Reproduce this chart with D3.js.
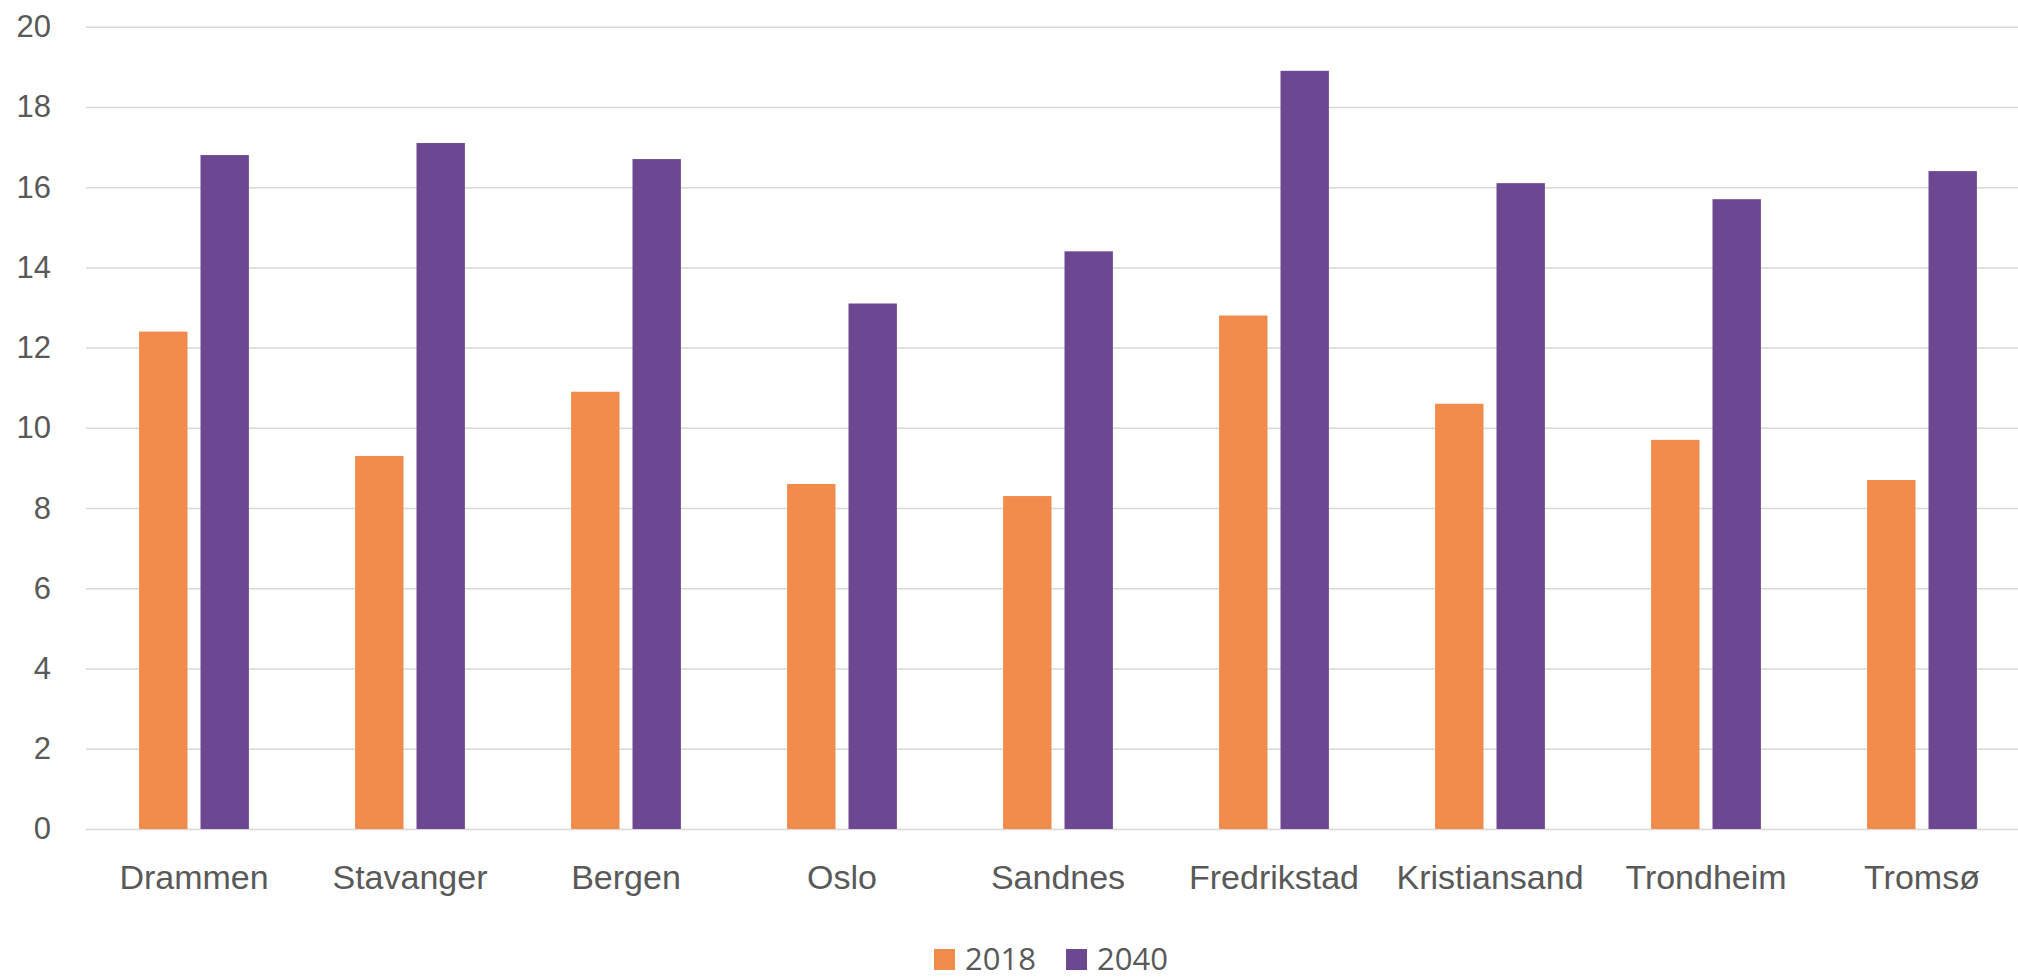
<!DOCTYPE html>
<html lang="no">
  <head>
    <meta charset="UTF-8" />
    <title>2018 / 2040</title>
    <script src="https://d3js.org/d3.v7.min.js"></script>
    <style>
      body {
        margin: 0;
        background: #fff;
        font-family: "Open Sans", "Noto Sans", sans-serif;
      }
      .axis text {
        fill: #595959;
        font-size: 31px;
      }
      .axis.cats text {
        font-size: 34px;
      }
      .grid line {
        stroke: #d9d9d9;
        stroke-width: 1.5;
      }
    </style>
  </head>
  <body>
    <div id="chart"></div>
    <script>
      const cities = [
        "Drammen", "Stavanger", "Bergen", "Oslo", "Sandnes",
        "Fredrikstad", "Kristiansand", "Trondheim", "Tromsø",
      ];
      const values2018 = [12.4, 9.3, 10.9, 8.6, 8.3, 12.8, 10.6, 9.7, 8.7];
      const values2040 = [16.8, 17.1, 16.7, 13.1, 14.4, 18.9, 16.1, 15.7, 16.4];
      const seriesNames = ["2018", "2040"];
      const seriesColors = ["#f18b4b", "#6c4893"];
      const yTicks = [0, 2, 4, 6, 8, 10, 12, 14, 16, 18, 20];

      const width = 2018;
      const height = 978;
      const plotLeft = 86;
      const slot = 216; // width of one city slot
      const plotTop = 26.7;
      const plotBottom = 829;

      const rows = cities.map((c, i) => ({
        city: c,
        vals: [values2018[i], values2040[i]],
      }));

      const svg = d3
        .select("#chart")
        .append("svg")
        .attr("width", width)
        .attr("height", height);

      const x0 = d3
        .scaleBand()
        .domain(cities)
        .range([plotLeft, plotLeft + slot * cities.length]);

      const x1 = d3
        .scaleBand()
        .domain(seriesNames)
        .range([0, x0.bandwidth()])
        .paddingInner(0.212)
        .paddingOuter(0.865);

      const y = d3.scaleLinear().domain([0, 20]).range([plotBottom, plotTop]);

      // gridlines + y labels
      svg
        .append("g")
        .attr("class", "axis grid")
        .attr("transform", `translate(${plotLeft},0)`)
        .call(
          d3
            .axisLeft(y)
            .tickValues(yTicks)
            .tickSize(-(width - plotLeft))
            .tickPadding(35)
        )
        .call((g) => g.select(".domain").remove());

      // bars
      const group = svg
        .append("g")
        .selectAll("g")
        .data(rows)
        .join("g")
        .attr("transform", (d) => `translate(${x0(d.city)},0)`);

      group
        .selectAll("rect")
        .data((d) => d.vals.map((v, i) => ({ key: seriesNames[i], v: v, i: i })))
        .join("rect")
        .attr("x", (d) => x1(d.key))
        .attr("width", x1.bandwidth())
        .attr("y", (d) => y(d.v))
        .attr("height", (d) => y(0) - y(d.v))
        .attr("fill", (d) => seriesColors[d.i]);

      // x labels
      svg
        .append("g")
        .attr("class", "axis cats")
        .attr("transform", `translate(0,${plotBottom})`)
        .call(d3.axisBottom(x0).tickSize(0).tickPadding(36))
        .call((g) => g.select(".domain").remove());

      // legend
      const legendX = [934, 1066];
      const legend = svg
        .append("g")
        .attr("class", "axis")
        .selectAll("g")
        .data(seriesNames)
        .join("g")
        .attr("transform", (d, i) => `translate(${legendX[i]},949)`);

      legend
        .append("rect")
        .attr("width", 21)
        .attr("height", 21)
        .attr("fill", (d, i) => seriesColors[i]);

      legend
        .append("text")
        .attr("x", 31)
        .attr("y", 21)
        .text((d) => d);
    </script>
  </body>
</html>
